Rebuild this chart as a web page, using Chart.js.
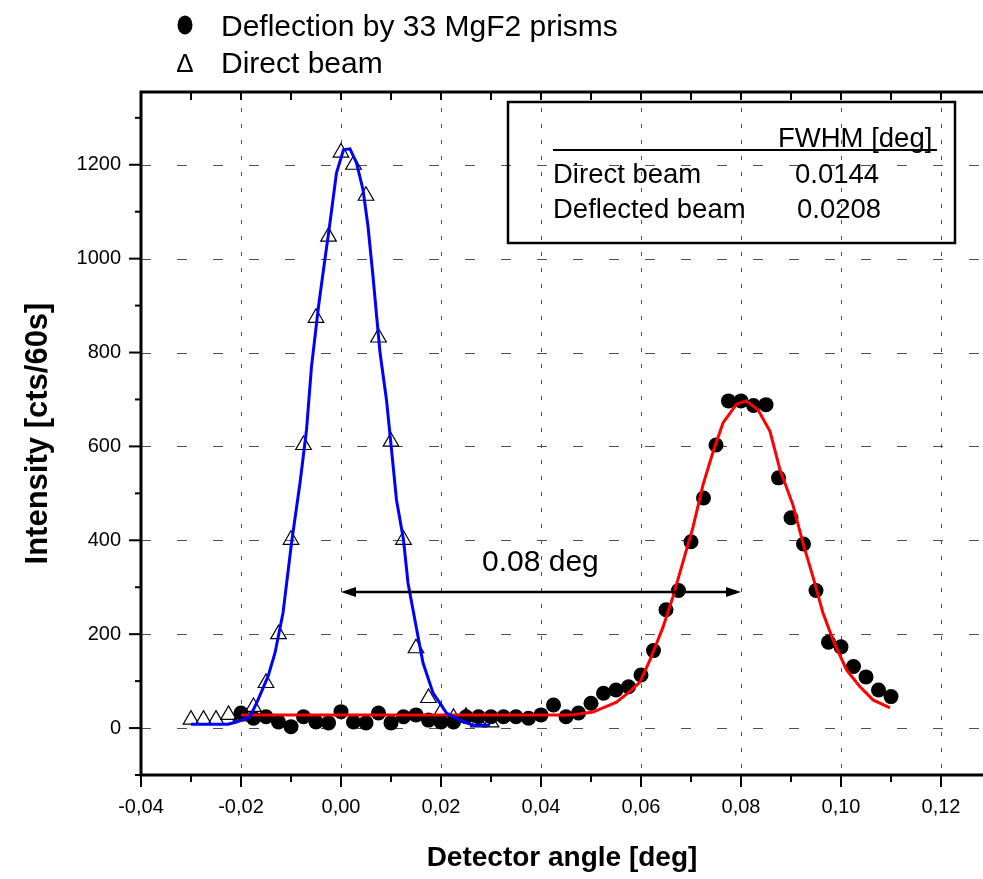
<!DOCTYPE html>
<html lang="en">
<head>
  <meta charset="UTF-8">
  <title>Deflection by 33 MgF2 prisms</title>
  <script src="https://cdn.jsdelivr.net/npm/chart.js"></script>
  <style>
    html, body { margin: 0; padding: 0; background: #ffffff; }
    canvas { display: block; }
  </style>
</head>
<body>
  <canvas id="scanChart" width="983" height="879"></canvas>

  <script>
    // Direct beam (open triangles)
    const directAngle = [-0.030, -0.0275, -0.025, -0.0225, -0.020, -0.0175, -0.015, -0.0125, -0.010, -0.0075,
      -0.005, -0.0025, 0.000, 0.0025, 0.005, 0.0075, 0.010, 0.0125, 0.015, 0.0175, 0.020, 0.0225, 0.025, 0.0275, 0.030];
    const directCounts = [18, 18, 18, 28, 25, 45, 96, 200, 401, 603,
      874, 1047, 1226, 1200, 1134, 832, 610, 401, 170, 64, 34, 22, 24, 12, 12];

    // Deflection by 33 MgF2 prisms (filled circles)
    const deflAngle = [-0.020, -0.0175, -0.015, -0.0125, -0.010, -0.0075, -0.005, -0.0025, 0.000, 0.0025,
      0.005, 0.0075, 0.010, 0.0125, 0.015, 0.0175, 0.020, 0.0225, 0.025, 0.0275,
      0.030, 0.0325, 0.035, 0.0375, 0.040, 0.0425, 0.045, 0.0475, 0.050, 0.0525,
      0.055, 0.0575, 0.060, 0.0625, 0.065, 0.0675, 0.070, 0.0725, 0.075, 0.0775,
      0.080, 0.0825, 0.085, 0.0875, 0.090, 0.0925, 0.095, 0.0975, 0.100, 0.1025,
      0.105, 0.1075, 0.110];
    const deflCounts = [32, 21, 24, 13, 3, 24, 13, 11, 35, 13,
      11, 32, 11, 24, 28, 17, 13, 13, 24, 24,
      24, 24, 24, 21, 28, 49, 24, 32, 53, 74,
      81, 88, 113, 165, 252, 293, 397, 490, 603, 697,
      697, 687, 689, 533, 448, 392, 293, 183, 173, 131,
      109, 81, 67];

    // fitted curves
    const directFitAngle = [-0.030, -0.0226, -0.0209, -0.0182, -0.0166, -0.0146, -0.0132, -0.0116, -0.0099, -0.0082,
      -0.0069, -0.0059, -0.0045, -0.0032, -0.0023, -0.0009, 0.0005, 0.0018, 0.0031, 0.0044,
      0.0054, 0.0064, 0.0078, 0.0091, 0.0101, 0.0111, 0.0125, 0.0134, 0.0144, 0.0154,
      0.0164, 0.0184, 0.0211, 0.0238, 0.0264, 0.0298];
    const directFitCounts = [8, 8, 13, 24, 60, 110, 160, 245, 394, 522,
      635, 770, 898, 1000, 1069, 1183, 1232, 1234, 1204, 1147,
      1069, 962, 800, 699, 593, 486, 401, 309, 252, 195,
      139, 75, 32, 17, 6, 6];

    const deflFitAngle = [-0.020, 0.000, 0.020, 0.040, 0.0461, 0.0504, 0.0551, 0.0574, 0.0598, 0.0618,
      0.0644, 0.0664, 0.0684, 0.0704, 0.0724, 0.0744, 0.0764, 0.0791, 0.0810, 0.0834,
      0.0858, 0.0878, 0.0904, 0.0924, 0.0944, 0.0964, 0.0984, 0.1011, 0.1038, 0.1064, 0.1098];
    const deflFitCounts = [28, 28, 28, 28, 28, 34, 55, 75, 98, 145,
      215, 280, 354, 428, 518, 588, 650, 690, 697, 678,
      632, 550, 475, 394, 322, 245, 188, 124, 88, 60, 43];

    const xTickValues = [-0.04, -0.03, -0.02, -0.01, 0.00, 0.01, 0.02, 0.03, 0.04, 0.05,
      0.06, 0.07, 0.08, 0.09, 0.10, 0.11, 0.12];
    const yTickValues = [-100, 0, 100, 200, 300, 400, 500, 600, 700, 800, 900, 1000, 1100, 1200, 1300];

    const legendLabels = ['Deflection by 33 MgF2 prisms', 'Direct beam'];
    const tableHeader = 'FWHM [deg]';
    const tableRows = ['Direct beam', 'Deflected beam'];
    const tableValues = ['0.0144', '0.0208'];
    const shiftLabel = '0.08 deg';
    const shiftFrom = 0.00;
    const shiftTo = 0.08;
    const shiftLevel = 290;

    const FONT = '"Liberation Sans", Arial, sans-serif';

    function isMajorX(v) { return Math.abs(Math.round(v * 100)) % 2 === 0; }
    function isMajorY(v) { return Math.round(v) % 200 === 0; }
    function toPoints(xs, ys) { return xs.map((v, i) => ({ x: v, y: ys[i] })); }

    const frame = {
      id: 'frame',
      beforeDatasetsDraw(chart) {
        const { ctx, chartArea: a, scales: { x, y } } = chart;
        ctx.save();
        ctx.strokeStyle = '#505050';
        ctx.lineWidth = 1;
        // dashed vertical grid
        ctx.setLineDash([4, 12]);
        xTickValues.forEach(v => {
          if (!isMajorX(v) || v <= x.min) return;
          const px = Math.round(x.getPixelForValue(v)) + 0.5;
          ctx.beginPath(); ctx.moveTo(px, a.top); ctx.lineTo(px, a.bottom); ctx.stroke();
        });
        // dashed horizontal grid
        ctx.setLineDash([10, 26]);
        yTickValues.forEach(v => {
          if (!isMajorY(v) || v < 0) return;
          const py = Math.round(y.getPixelForValue(v)) + 0.5;
          ctx.beginPath(); ctx.moveTo(a.left, py); ctx.lineTo(a.right, py); ctx.stroke();
        });
        ctx.restore();
      },
      afterDatasetsDraw(chart) {
        const { ctx, chartArea: a, scales: { x, y } } = chart;
        ctx.save();
        ctx.strokeStyle = '#000';
        ctx.lineWidth = 3;
        ctx.beginPath();
        ctx.moveTo(a.right, a.top); ctx.lineTo(a.left, a.top);
        ctx.lineTo(a.left, a.bottom); ctx.lineTo(a.right, a.bottom);
        ctx.stroke();

        ctx.lineWidth = 2;
        xTickValues.forEach(v => {
          const px = x.getPixelForValue(v);
          const len = isMajorX(v) ? 12 : 7;
          ctx.beginPath(); ctx.moveTo(px, a.bottom); ctx.lineTo(px, a.bottom + len); ctx.stroke();
          ctx.beginPath(); ctx.moveTo(px, a.top); ctx.lineTo(px, a.top + 8); ctx.stroke();
        });
        yTickValues.forEach(v => {
          const py = y.getPixelForValue(v);
          const len = isMajorY(v) ? 12 : 6;
          ctx.beginPath(); ctx.moveTo(a.left - len, py); ctx.lineTo(a.left, py); ctx.stroke();
        });

        // peak separation arrow
        const x0 = x.getPixelForValue(shiftFrom);
        const x1 = x.getPixelForValue(shiftTo);
        const ya = y.getPixelForValue(shiftLevel);
        ctx.lineWidth = 2.5;
        ctx.beginPath(); ctx.moveTo(x0 + 6, ya); ctx.lineTo(x1 - 6, ya); ctx.stroke();
        ctx.fillStyle = '#000';
        ctx.beginPath(); ctx.moveTo(x0, ya); ctx.lineTo(x0 + 15, ya - 5); ctx.lineTo(x0 + 15, ya + 5); ctx.closePath(); ctx.fill();
        ctx.beginPath(); ctx.moveTo(x1, ya); ctx.lineTo(x1 - 15, ya - 5); ctx.lineTo(x1 - 15, ya + 5); ctx.closePath(); ctx.fill();
        ctx.font = '30px ' + FONT;
        ctx.textAlign = 'left';
        ctx.textBaseline = 'alphabetic';
        ctx.fillText(shiftLabel, 482, 571);
        ctx.restore();
      },
      afterDraw(chart) {
        const { ctx } = chart;
        ctx.save();
        ctx.fillStyle = '#000';
        ctx.strokeStyle = '#000';

        // legend
        ctx.beginPath(); ctx.ellipse(185, 25, 7.5, 9.5, 0, 0, Math.PI * 2); ctx.fill();
        ctx.font = '26px ' + FONT;
        ctx.textAlign = 'center';
        ctx.textBaseline = 'alphabetic';
        ctx.fillText('\u0394', 185, 72);
        ctx.font = '30px ' + FONT;
        ctx.textAlign = 'left';
        ctx.fillText(legendLabels[0], 221, 36);
        ctx.fillText(legendLabels[1], 221, 73);

        // FWHM table
        ctx.lineWidth = 2.5;
        ctx.strokeRect(508, 102, 447, 141);
        ctx.lineWidth = 2;
        ctx.beginPath(); ctx.moveTo(553, 150); ctx.lineTo(937, 150); ctx.stroke();
        ctx.font = '27.5px ' + FONT;
        ctx.fillText(tableHeader, 778, 147);
        ctx.fillText(tableRows[0], 553, 183);
        ctx.fillText(tableRows[1], 553, 218);
        ctx.fillText(tableValues[0], 795, 183);
        ctx.fillText(tableValues[1], 797, 218);
        ctx.restore();
      }
    };

    const ctx = document.getElementById('scanChart').getContext('2d');
    new Chart(ctx, {
      type: 'scatter',
      data: {
        datasets: [
          {
            label: 'Direct beam fit',
            data: toPoints(directFitAngle, directFitCounts),
            showLine: true,
            borderColor: '#0000ff',
            borderWidth: 3,
            pointRadius: 0,
            order: 1
          },
          {
            label: 'Deflected beam fit',
            data: toPoints(deflFitAngle, deflFitCounts),
            showLine: true,
            borderColor: '#ff0000',
            borderWidth: 3,
            pointRadius: 0,
            order: 2
          },
          {
            label: legendLabels[0],
            data: toPoints(deflAngle, deflCounts),
            pointStyle: 'circle',
            pointRadius: 7.5,
            backgroundColor: '#000',
            borderWidth: 0,
            order: 3
          },
          {
            label: legendLabels[1],
            data: toPoints(directAngle, directCounts),
            pointStyle: 'triangle',
            pointRadius: 9,
            backgroundColor: 'rgba(255,255,255,0)',
            borderColor: '#000',
            borderWidth: 1.2,
            order: 4
          }
        ]
      },
      options: {
        responsive: false,
        animation: false,
        events: [],
        layout: { autoPadding: false, padding: { top: 92, left: 0, right: 0, bottom: 0 } },
        plugins: {
          legend: { display: false },
          tooltip: { enabled: false }
        },
        scales: {
          x: {
            type: 'linear',
            min: -0.04,
            max: 0.1284,
            afterBuildTicks: s => { s.ticks = xTickValues.map(v => ({ value: v })); },
            afterFit: s => { s.height = 104; },
            grid: { display: false, drawTicks: false },
            border: { display: false },
            ticks: {
              autoSkip: false,
              maxRotation: 0,
              padding: 20,
              color: '#000',
              font: { family: FONT, size: 20 },
              callback: v => isMajorX(v) ? v.toFixed(2).replace('.', ',') : ''
            },
            title: {
              display: true,
              text: 'Detector angle [deg]',
              color: '#000',
              font: { family: FONT, size: 28, weight: 'bold' },
              padding: { top: 0, bottom: 4 }
            }
          },
          y: {
            min: -100,
            max: 1355,
            afterBuildTicks: s => { s.ticks = yTickValues.map(v => ({ value: v })); },
            afterFit: s => { s.width = 141; },
            grid: { display: false, drawTicks: false },
            border: { display: false },
            ticks: {
              autoSkip: false,
              padding: 20,
              color: '#000',
              font: { family: FONT, size: 20 },
              callback: v => (isMajorY(v) && v >= 0) ? String(v) : ''
            },
            title: {
              display: true,
              text: 'Intensity [cts/60s]',
              color: '#000',
              font: { family: FONT, size: 31, weight: 'bold' },
              padding: { top: 20, bottom: 0 }
            }
          }
        }
      },
      plugins: [frame]
    });
  </script>
</body>
</html>
